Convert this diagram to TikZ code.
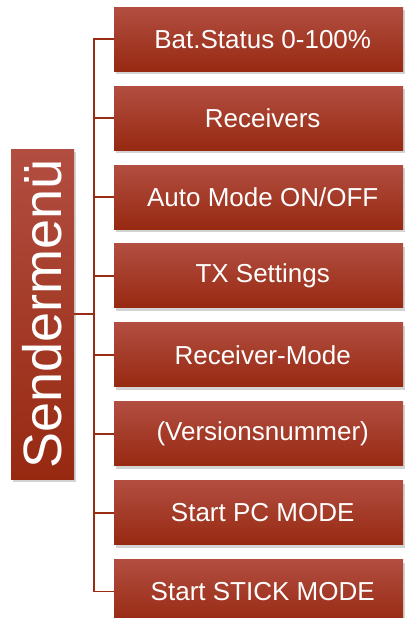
\documentclass[tikz,border=0pt]{standalone}
\usepackage{fontspec}
\setmainfont{Liberation Sans}
\usepackage{xcolor}
\usepackage{tikz}
\usetikzlibrary{calc,positioning,shadows}
\definecolor{redtop}{HTML}{B24E41}
\definecolor{redbot}{HTML}{972911}
\definecolor{linkc}{HTML}{9A2C16}
\tikzset{
  entry/.style={minimum width=289pt,minimum height=64pt,inner sep=0pt,
    top color=redtop,bottom color=redbot,draw=none,text=white,
    font=\fontsize{26}{31}\selectfont,
    execute at begin node=\hspace*{8pt},
    drop shadow={opacity=0.35,shadow xshift=2pt,shadow yshift=-3pt}},
  title/.style={minimum width=63pt,minimum height=330pt,inner sep=0pt,
    top color=redtop,bottom color=redbot,draw=none,text=white,
    font=\fontsize{54}{60}\selectfont,
    drop shadow={opacity=0.35,shadow xshift=2pt,shadow yshift=-3pt}},
  link/.style={linkc,line width=1.8pt}
}
\begin{document}
\begin{tikzpicture}[x=1pt,y=-1pt]
\useasboundingbox (0,0) rectangle (404,618);
% left title bar
\node[title] (menu) at (42.5,314) {\rotatebox{90}{Sendermenü}};
% menu entries
\node[entry,anchor=north west] (b1) at (114,7) {Bat.Status 0-100\%};
\node[entry,below=14.5pt of b1] (b2) {Receivers};
\node[entry,below=14.5pt of b2] (b3) {Auto Mode ON/OFF};
\node[entry,below=14.5pt of b3] (b4) {TX Settings};
\node[entry,below=14.5pt of b4] (b5) {Receiver-Mode};
\node[entry,below=14.5pt of b5] (b6) {(Versionsnummer)};
\node[entry,below=14.5pt of b6] (b7) {Start PC MODE};
\node[entry,below=14.5pt of b7] (b8) {Start STICK MODE};
% tree lines
\coordinate (fork) at ($(menu.east)!.5!(menu.east -| b1.west)$);
\foreach \i in {1,...,8}
  \draw[link] (menu.east) -- (fork) |- (b\i.west);
\end{tikzpicture}
\end{document}
